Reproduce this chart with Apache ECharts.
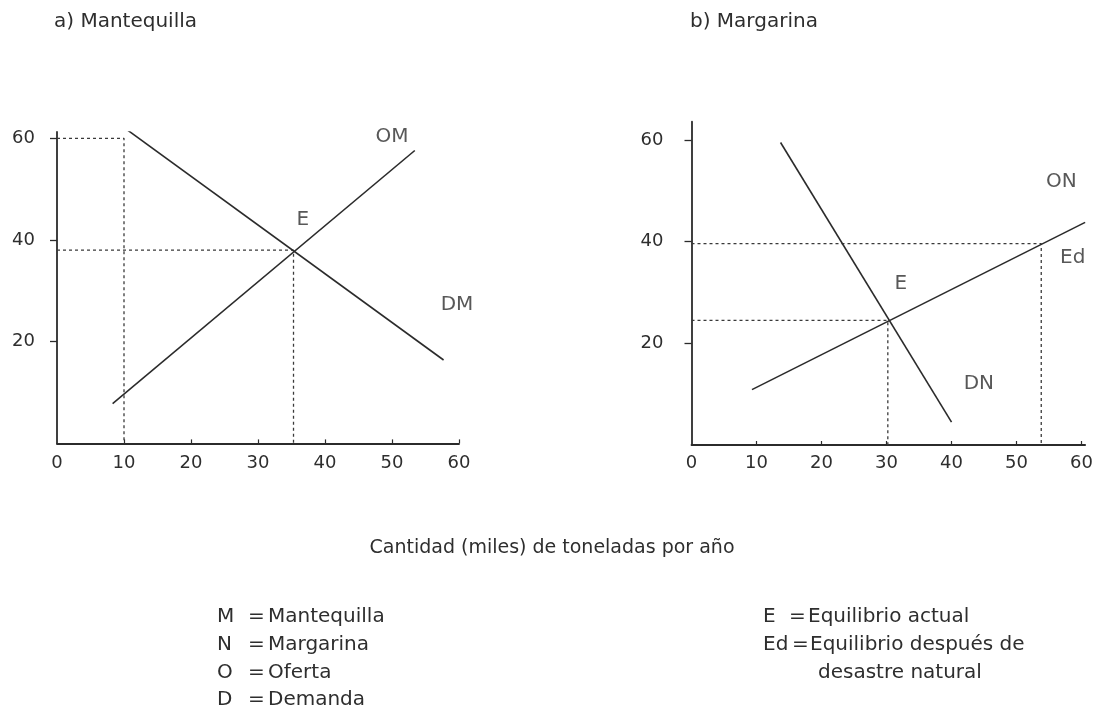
<!DOCTYPE html>
<html>
<head>
<meta charset="utf-8">
<script src="https://cdn.jsdelivr.net/npm/echarts@6/dist/echarts.min.js"></script>
<style>
html,body{margin:0;padding:0;background:#fff;}
#c{width:1096px;height:711px;}
</style>
</head>
<body>
<div id="c"></div>
<script>
// ---- data ----
const xTickValues = [0, 10, 20, 30, 40, 50, 60];
const yTickValues = [20, 40, 60];

// a) Mantequilla
const omLine = [[8.3, 7.8], [53.4, 57.6]];
const dmLine = [[9.5, 62.6], [57.7, 16.4]];
const guideM60 = [[0, 60], [10, 60], [10, 0]];
const guideMEq = [[0, 38], [35.3, 38], [35.3, 0]];
const labelsM = [
  {name: 'OM', value: [50.0, 60.3]},
  {name: 'DM', value: [59.7, 27.2]},
  {name: 'E', value: [36.7, 43.9]}
];

// b) Margarina
const onLine = [[9.3, 10.9], [60.55, 43.8]];
const dnLine = [[13.7, 59.5], [40.0, 4.5]];
const guideNEd = [[0, 39.6], [53.8, 39.6], [53.8, 0]];
const guideNEq = [[0, 24.5], [30.2, 24.5], [30.2, 0]];
const labelsN = [
  {name: 'ON', value: [56.9, 51.8]},
  {name: 'E', value: [32.2, 31.8]},
  {name: 'DN', value: [44.2, 12.1]}
];
const labelsNLeft = [
  {name: 'Ed', value: [56.7, 36.8]}
];

const titles = ['a) Mantequilla', 'b) Margarina'];
const xAxisTitle = 'Cantidad (miles) de toneladas por año';
const legendKeysLeft = ['M', 'N', 'O', 'D'];
const legendTextsLeft = ['Mantequilla', 'Margarina', 'Oferta', 'Demanda'];
const legendKeysRight = ['E', 'Ed', ''];
const legendTextsRight = ['Equilibrio actual', 'Equilibrio después de', 'desastre natural'];

// ---- chart ----
const FONT = 'DejaVu Sans';
const INK = '#2b2b2b';
const TXT = '#2e2e2e';
const f = (s) => s + 'px "' + FONT + '"';

function xAxisCfg(gi, max, margin) {
  return {
    type: 'value', gridIndex: gi, min: 0, max: max, interval: 10,
    axisLine: {show: true, lineStyle: {color: INK, width: 1.8}},
    axisTick: {show: true, inside: true, length: 4, lineStyle: {color: INK, width: 1.2}, customValues: xTickValues.slice(1)},
    axisLabel: {show: true, customValues: xTickValues, color: TXT, fontFamily: FONT, fontSize: 18, margin: margin},
    splitLine: {show: false}
  };
}
function yAxisCfg(gi, max, margin) {
  return {
    type: 'value', gridIndex: gi, min: 0, max: max, interval: 20,
    axisLine: {show: true, lineStyle: {color: INK, width: 1.8}},
    axisTick: {show: true, length: 7, lineStyle: {color: INK, width: 1.3}, customValues: yTickValues},
    axisLabel: {show: true, customValues: yTickValues, color: TXT, fontFamily: FONT, fontSize: 18, margin: margin},
    splitLine: {show: false}
  };
}
function curve(data, xi) {
  return {type: 'line', xAxisIndex: xi, yAxisIndex: xi, data: data, showSymbol: false, symbol: 'none',
    lineStyle: {color: INK, width: 1.6}, silent: true, z: 3};
}
function guide(data, xi) {
  return {type: 'line', xAxisIndex: xi, yAxisIndex: xi, data: data, showSymbol: false, symbol: 'none',
    lineStyle: {color: '#3a3a3a', width: 1.3, type: [3, 3]}, silent: true, z: 2};
}
function labels(data, xi, align) {
  return {type: 'scatter', xAxisIndex: xi, yAxisIndex: xi, data: data, symbolSize: 1,
    itemStyle: {color: 'rgba(0,0,0,0)'},
    label: {show: true, position: 'inside', formatter: '{b}', color: TXT, fontFamily: FONT, fontSize: 20, align: align || 'center'},
    silent: true, z: 5};
}

const graphics = [];
graphics.push({type: 'text', x: 54, y: 22, style: {text: titles[0], fill: TXT, font: f(20), verticalAlign: 'middle'}});
graphics.push({type: 'text', x: 690, y: 22, style: {text: titles[1], fill: TXT, font: f(20), verticalAlign: 'middle'}});
graphics.push({type: 'text', x: 552, y: 548, style: {text: xAxisTitle, fill: TXT, font: f(19), align: 'center', verticalAlign: 'middle'}});
const rowY = [617, 645, 673, 700];
legendKeysLeft.forEach((k, i) => {
  graphics.push({type: 'text', x: 217, y: rowY[i], style: {text: k, fill: TXT, font: f(20), verticalAlign: 'middle'}});
  graphics.push({type: 'text', x: 248, y: rowY[i], style: {text: '=', fill: TXT, font: f(20), verticalAlign: 'middle'}});
  graphics.push({type: 'text', x: 268, y: rowY[i], style: {text: legendTextsLeft[i], fill: TXT, font: f(20), verticalAlign: 'middle'}});
});
const rightKeyX = 763, rightEqX = [789, 792], rightTxtX = [808, 810, 818];
legendKeysRight.forEach((k, i) => {
  if (k) {
    graphics.push({type: 'text', x: rightKeyX, y: rowY[i], style: {text: k, fill: TXT, font: f(20), verticalAlign: 'middle'}});
    graphics.push({type: 'text', x: rightEqX[i], y: rowY[i], style: {text: '=', fill: TXT, font: f(20), verticalAlign: 'middle'}});
  }
  graphics.push({type: 'text', x: rightTxtX[i], y: rowY[i], style: {text: legendTextsRight[i], fill: TXT, font: f(20), verticalAlign: 'middle'}});
});

const option = {
  animation: false,
  backgroundColor: '#fff',
  grid: [
    {left: 57, top: 132, width: 402, height: 311.4},
    {left: 691.5, top: 121.7, width: 404.5, height: 323.3}
  ],
  xAxis: [xAxisCfg(0, 60, 11), xAxisCfg(1, 60.55, 9)],
  yAxis: [yAxisCfg(0, 61.24, 22), yAxisCfg(1, 63.6, 28)],
  series: [
    guide(guideM60, 0), guide(guideMEq, 0),
    curve(omLine, 0), curve(dmLine, 0),
    labels(labelsM, 0),
    guide(guideNEd, 1), guide(guideNEq, 1),
    curve(onLine, 1), curve(dnLine, 1),
    labels(labelsN, 1), labels(labelsNLeft, 1, 'left')
  ],
  graphic: graphics
};

const chart = echarts.init(document.getElementById('c'), null, {renderer: 'canvas'});
chart.setOption(option);
</script>
</body>
</html>
